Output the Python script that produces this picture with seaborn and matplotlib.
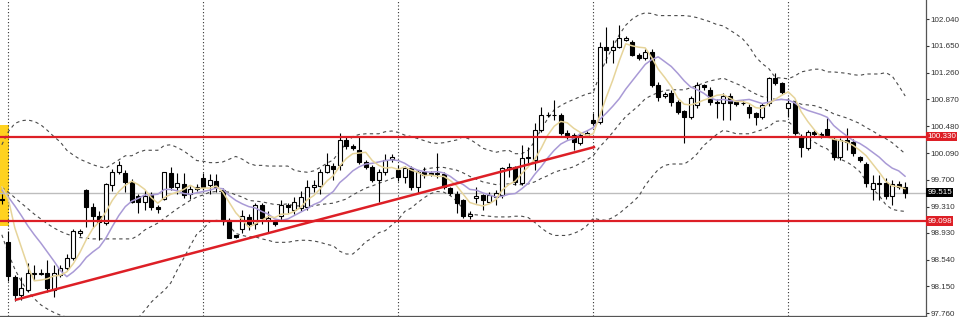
import numpy as np
import pandas as pd
import matplotlib
matplotlib.use("Agg")
import matplotlib.pyplot as plt
import seaborn as sns

# ---------------- data (bar index -1 .. 138) ----------------
bars = list(range(-1, 139))
opens = [99.42,98.80,98.29,98.03,98.10,98.33,98.33,98.34,98.10,98.32,98.41,98.56,98.93,99.55,99.30,99.18,99.07,99.62,99.81,99.80,
99.67,99.47,99.37,99.48,99.31,99.42,99.80,99.60,99.64,99.49,99.57,99.72,99.62,99.68,99.55,99.11,98.89,98.99,99.16,99.05,
99.33,99.11,99.08,99.17,99.33,99.26,99.29,99.30,99.59,99.61,99.82,99.90,99.92,100.28,100.19,100.13,99.96,99.89,99.70,99.81,
100.01,99.84,99.74,99.87,99.59,99.81,99.80,99.79,99.79,99.58,99.50,99.40,99.18,99.44,99.48,99.37,99.45,99.48,99.86,99.88,
99.65,100.02,99.99,100.42,100.64,100.65,100.64,100.38,100.35,100.24,100.35,100.57,100.54,101.63,101.59,101.63,101.74,101.71,101.52,101.47,
101.56,101.08,100.92,100.96,100.83,100.70,100.61,100.79,101.08,101.01,100.83,100.82,100.92,100.83,100.82,100.76,100.67,100.61,100.82,101.18,
101.11,100.75,100.82,100.34,100.16,100.39,100.37,100.44,100.30,100.03,100.28,100.25,100.03,99.93,99.56,99.64,99.65,99.46,99.64,99.59]
highs = [99.50,98.95,98.32,98.29,98.49,98.46,98.40,98.53,98.46,98.46,98.62,98.98,98.99,99.56,99.36,99.25,99.66,99.86,99.97,99.84,
99.71,99.50,99.55,99.52,99.34,99.82,99.88,99.80,99.80,99.61,99.64,99.80,99.78,99.78,99.58,99.15,98.90,99.26,99.20,99.36,
99.36,99.25,99.10,99.40,99.36,99.45,99.54,99.70,99.70,99.86,100.09,99.95,100.38,100.32,100.22,100.32,99.99,99.92,99.86,100.08,
100.08,99.92,99.90,99.90,99.84,99.88,99.83,100.09,99.82,99.60,99.53,99.42,99.24,99.59,99.50,99.52,99.55,99.89,99.94,99.90,
100.21,100.18,100.53,100.76,100.68,100.86,100.67,100.42,100.38,100.40,100.41,100.67,101.70,101.92,101.73,101.95,101.80,101.74,101.55,101.60,
101.60,101.12,100.98,101.00,100.86,100.72,100.92,101.12,101.10,101.05,100.87,100.96,100.96,100.85,100.86,100.80,100.69,100.82,101.20,101.25,
101.13,100.89,100.86,100.37,100.43,100.42,100.40,100.60,100.33,100.31,100.45,100.30,100.05,99.96,99.77,99.77,99.72,99.70,99.68,99.67]
lows = [99.35,98.22,97.93,97.95,98.06,98.24,98.31,98.06,97.99,98.28,98.39,98.53,98.88,99.01,99.02,98.82,99.04,99.54,99.78,99.52,
99.36,99.22,99.26,99.26,99.22,99.40,99.55,99.50,99.44,99.42,99.54,99.55,99.50,99.52,99.04,98.85,98.85,98.93,98.97,98.99,
99.05,98.93,99.03,99.10,99.22,99.20,99.25,99.26,99.52,99.50,99.80,99.70,99.84,100.15,100.14,99.93,99.85,99.67,99.38,99.77,
99.96,99.68,99.66,99.55,99.51,99.73,99.75,99.72,99.57,99.48,99.21,99.14,99.13,99.36,99.26,99.36,99.33,99.44,99.74,99.62,
99.63,99.94,99.84,100.40,100.61,100.57,100.35,100.29,100.13,100.20,100.33,100.50,100.51,101.40,101.40,101.62,101.72,101.50,101.44,101.45,
101.05,100.85,100.89,100.78,100.66,100.23,100.58,100.75,101.00,100.79,100.60,100.57,100.57,100.78,100.79,100.60,100.50,100.58,100.78,101.08,
100.95,100.61,100.35,100.03,100.13,100.33,100.31,100.32,99.99,99.99,100.13,100.05,99.96,99.60,99.41,99.40,99.42,99.33,99.56,99.44]
closes = [99.40,98.30,98.03,98.13,98.34,98.34,98.35,98.12,98.34,98.41,98.56,98.95,98.95,99.30,99.18,99.09,99.64,99.81,99.91,99.67,
99.38,99.38,99.46,99.30,99.27,99.81,99.59,99.65,99.48,99.56,99.59,99.60,99.69,99.59,99.11,98.86,98.87,99.17,99.05,99.33,
99.14,99.15,99.06,99.33,99.30,99.37,99.45,99.59,99.63,99.82,99.92,99.86,100.28,100.19,100.17,99.96,99.89,99.70,99.81,99.99,
100.03,99.74,99.87,99.59,99.81,99.77,99.79,99.80,99.59,99.51,99.36,99.18,99.20,99.46,99.41,99.48,99.51,99.87,99.88,99.67,
100.02,100.03,100.42,100.64,100.65,100.64,100.38,100.32,100.25,100.35,100.38,100.53,101.63,101.59,101.63,101.76,101.77,101.52,101.47,101.56,
101.08,100.90,100.95,100.83,100.69,100.61,100.89,101.08,101.05,100.83,100.82,100.92,100.82,100.81,100.82,100.67,100.61,100.79,101.18,101.11,
100.98,100.82,100.38,100.18,100.39,100.36,100.34,100.35,100.03,100.28,100.25,100.09,99.99,99.65,99.65,99.66,99.46,99.64,99.59,99.515]

ma_fast = [99.60,99.42,99.00,98.72,98.44,98.23,98.24,98.26,98.30,98.31,98.36,98.48,98.64,98.83,98.99,99.09,99.23,99.40,99.53,99.62,
99.68,99.63,99.56,99.44,99.36,99.44,99.49,99.52,99.56,99.62,99.57,99.58,99.58,99.61,99.52,99.37,99.22,99.12,99.01,99.06,
99.11,99.17,99.15,99.20,99.20,99.24,99.30,99.41,99.47,99.57,99.68,99.76,99.90,100.01,100.08,100.09,100.10,99.98,99.91,99.87,
99.88,99.85,99.89,99.84,99.81,99.76,99.77,99.75,99.75,99.69,99.61,99.49,99.37,99.34,99.32,99.35,99.41,99.55,99.63,99.68,
99.79,99.89,100.00,100.16,100.35,100.48,100.55,100.53,100.45,100.39,100.34,100.37,100.63,100.90,101.15,101.43,101.68,101.65,101.63,101.62,
101.48,101.31,101.19,101.06,100.89,100.80,100.79,100.82,100.86,100.89,100.93,100.94,100.89,100.84,100.84,100.81,100.75,100.74,100.81,100.87,
100.93,100.98,100.89,100.69,100.55,100.43,100.33,100.32,100.29,100.27,100.25,100.20,100.13,100.05,99.93,99.81,99.68,99.61,99.60,99.57]
ma_slow = [99.55,99.45,99.32,99.18,99.03,98.90,98.78,98.65,98.52,98.38,98.29,98.36,98.45,98.57,98.65,98.72,98.85,99.02,99.18,99.31,
99.39,99.43,99.48,99.48,99.49,99.56,99.56,99.54,99.50,99.49,99.51,99.53,99.55,99.58,99.57,99.47,99.40,99.35,99.31,99.29,
99.24,99.20,99.13,99.11,99.13,99.18,99.23,99.28,99.34,99.38,99.46,99.53,99.66,99.74,99.83,99.89,99.93,99.94,99.96,99.98,
99.99,99.98,99.94,99.88,99.84,99.82,99.81,99.82,99.80,99.75,99.68,99.63,99.56,99.55,99.51,99.48,99.45,99.46,99.49,99.50,
99.57,99.65,99.78,99.89,100.02,100.13,100.22,100.27,100.30,100.37,100.41,100.46,100.58,100.67,100.77,100.88,101.02,101.14,101.26,101.38,
101.45,101.49,101.42,101.35,101.25,101.14,101.05,101.01,100.96,100.89,100.86,100.87,100.85,100.85,100.86,100.87,100.84,100.81,100.83,100.86,
100.87,100.86,100.82,100.75,100.71,100.68,100.65,100.61,100.49,100.41,100.34,100.27,100.23,100.17,100.10,100.03,99.94,99.87,99.83,99.75]
bb_mid = [99.59,99.52,99.44,99.36,99.28,99.20,99.13,99.06,99.00,98.95,98.91,98.88,98.86,98.85,98.84,98.84,98.84,98.84,98.84,98.84,
98.84,98.89,98.97,99.02,99.07,99.14,99.21,99.28,99.34,99.40,99.45,99.48,99.52,99.53,99.53,99.52,99.48,99.45,99.40,99.39,
99.38,99.36,99.34,99.34,99.35,99.32,99.32,99.31,99.32,99.34,99.35,99.36,99.39,99.42,99.48,99.53,99.58,99.61,99.65,99.68,
99.72,99.75,99.79,99.81,99.83,99.85,99.87,99.88,99.88,99.86,99.84,99.80,99.75,99.71,99.67,99.65,99.63,99.64,99.64,99.63,
99.63,99.64,99.67,99.72,99.76,99.81,99.84,99.86,99.89,99.94,99.99,100.05,100.18,100.28,100.39,100.51,100.62,100.70,100.78,100.88,
100.93,100.97,101.00,101.01,101.01,101.01,101.04,101.07,101.11,101.14,101.16,101.18,101.14,101.10,101.06,101.00,100.95,100.91,100.90,100.87,
100.87,100.86,100.84,100.80,100.79,100.78,100.75,100.71,100.66,100.63,100.60,100.56,100.52,100.46,100.41,100.35,100.30,100.24,100.16,100.08]
bb_up = [100.21,100.40,100.52,100.56,100.57,100.55,100.50,100.42,100.33,100.25,100.13,100.06,100.00,99.96,99.92,99.89,99.87,99.93,99.99,100.05,
100.05,100.10,100.13,100.13,100.13,100.20,100.21,100.17,100.12,100.05,99.98,99.97,99.95,99.95,99.96,100.00,100.04,100.00,99.94,99.91,
99.91,99.90,99.90,99.90,99.90,99.84,99.82,99.81,99.83,99.88,99.94,99.99,100.12,100.23,100.33,100.36,100.37,100.37,100.37,100.40,
100.41,100.39,100.35,100.33,100.30,100.27,100.24,100.23,100.24,100.26,100.28,100.33,100.29,100.23,100.16,100.13,100.10,100.12,100.13,100.08,
100.08,100.13,100.26,100.44,100.59,100.72,100.78,100.83,100.87,100.91,100.95,100.97,101.23,101.45,101.63,101.81,101.95,102.04,102.10,102.13,
102.12,102.09,102.09,102.09,102.09,102.09,102.08,102.06,102.03,102.00,101.96,101.94,101.88,101.82,101.75,101.64,101.49,101.39,101.32,101.19,
101.18,101.17,101.21,101.27,101.29,101.31,101.31,101.27,101.27,101.26,101.25,101.23,101.22,101.24,101.24,101.24,101.26,101.21,101.07,100.92]
bb_low = [98.90,98.63,98.40,98.22,98.08,97.97,97.88,97.82,97.77,97.73,97.70,97.67,97.65,97.64,97.63,97.62,97.62,97.62,97.62,97.63,
97.63,97.69,97.80,97.92,98.01,98.09,98.20,98.39,98.56,98.74,98.91,98.99,99.09,99.11,99.10,99.03,98.92,98.89,98.87,98.87,
98.84,98.82,98.79,98.79,98.79,98.81,98.82,98.82,98.81,98.79,98.76,98.74,98.66,98.62,98.62,98.70,98.80,98.85,98.93,98.96,
99.04,99.12,99.24,99.29,99.37,99.44,99.50,99.53,99.52,99.47,99.39,99.27,99.20,99.19,99.18,99.17,99.16,99.16,99.16,99.17,
99.17,99.15,99.08,99.00,98.93,98.89,98.89,98.89,98.92,98.96,99.03,99.14,99.12,99.11,99.15,99.21,99.29,99.37,99.46,99.62,
99.74,99.85,99.91,99.93,99.93,99.93,99.99,100.08,100.20,100.28,100.36,100.42,100.40,100.37,100.37,100.37,100.40,100.43,100.47,100.55,
100.56,100.55,100.46,100.33,100.29,100.25,100.19,100.15,100.05,100.00,99.96,99.90,99.82,99.68,99.57,99.47,99.34,99.27,99.25,99.24]

resistance = 100.330
support = 99.098
last_price = 99.515
trend_bars = [1, 90.3]
trend_prices = [97.95, 100.18]
highlight_bars = [-1.3, 0.1]
highlight_prices = [99.03, 100.50]
grid_bars = [0, 30, 60, 90, 120]
tick_values = [102.04, 101.65, 101.26, 100.87, 100.48, 100.09, 99.70, 99.31, 98.93, 98.54, 98.15, 97.76]
tick_labels = ["102.040", "101.650", "101.260", "100.870", "100.480", "100.090",
               "99.700", "99.310", "98.930", "98.540", "98.150", "97.760"]

# ---------------- figure ----------------
sns.set_theme(style="white")
plt.rcParams["font.family"] = ["Liberation Sans", "DejaVu Sans"]
fig = plt.figure(figsize=(9.6, 3.17), dpi=100)
ax = fig.add_axes([0.0, 0.003, 926 / 960, 0.997])
ax.set_facecolor("white")

x_arr = np.array(bars, dtype=float)
o = np.array(opens); h = np.array(highs); l = np.array(lows); c = np.array(closes)

# highlight box
ax.fill_between(highlight_bars, highlight_prices[0], highlight_prices[1],
                color="#FFD21F", lw=0, zorder=1)
# vertical dotted grid
for gb in grid_bars:
    ax.axvline(gb, color="#303030", lw=0.8, ls=(0, (1, 2)), zorder=1.2)
# last price line
ax.axhline(last_price, color="#BDBDBD", lw=1.0, zorder=1.3)

# bollinger bands and moving averages (seaborn)
df = pd.DataFrame({"bar": x_arr, "up": bb_up, "mid": bb_mid, "low": bb_low,
                   "fast": ma_fast, "slow": ma_slow})
for col in ["up", "mid", "low"]:
    sns.lineplot(data=df, x="bar", y=col, ax=ax, color="#4a4a4a", lw=0.8,
                 linestyle=(0, (3, 3)), zorder=2, legend=False)

# candles
ax.vlines(x_arr, l, h, color="black", lw=0.8, zorder=3)
bottoms = np.minimum(o, c)
heights = np.maximum(np.abs(c - o), 0.004)
face = np.where(c >= o, "white", "black")
ax.bar(x_arr, heights, bottom=bottoms, width=0.62, color=face,
       edgecolor="black", linewidth=0.8, zorder=3.2)

sns.lineplot(data=df, x="bar", y="slow", ax=ax, color="#A99AD6", lw=1.1, zorder=4, legend=False)
sns.lineplot(data=df, x="bar", y="fast", ax=ax, color="#E6D49A", lw=1.1, zorder=4.1, legend=False)

# horizontal red levels and trend line
red = "#DD1F26"
ax.axhline(resistance, color=red, lw=1.6, zorder=5)
ax.axhline(support, color=red, lw=1.6, zorder=5)
ax.plot(trend_bars, trend_prices, color=red, lw=1.8, zorder=5, solid_capstyle="butt")

# axes limits
ax.set_xlim(-1.28, 141.2)
ax.set_ylim(97.717, 102.317)
ax.set_xticks([])
ax.set_xlabel(""); ax.set_ylabel("")
ax.yaxis.tick_right()
ax.set_yticks(tick_values)
ax.set_yticklabels(tick_labels)
ax.tick_params(axis="y", which="both", right=True, left=False, length=2.5, width=0.8,
               color="#333333", labelsize=5.8, labelcolor="#333333", pad=1.0, direction="out")
for s in ["top", "left"]:
    ax.spines[s].set_visible(False)
ax.spines["right"].set_color("#555555"); ax.spines["right"].set_linewidth(0.9)
ax.spines["bottom"].set_color("#555555"); ax.spines["bottom"].set_linewidth(0.9)

# price label boxes on the axis
def price_tag(val, txt, bg):
    ax.annotate(txt, xy=(1.0, val), xycoords=("axes fraction", "data"),
                xytext=(1.0, 0), textcoords="offset points", va="center", ha="left",
                fontsize=5.8, color="white", zorder=10, annotation_clip=False,
                bbox=dict(boxstyle="square,pad=0.15", fc=bg, ec="none"))

price_tag(resistance, "100.330", red)
price_tag(support, "99.098", red)
price_tag(last_price, "99.515", "black")

fig.savefig("out.png", dpi=100, facecolor="white")
